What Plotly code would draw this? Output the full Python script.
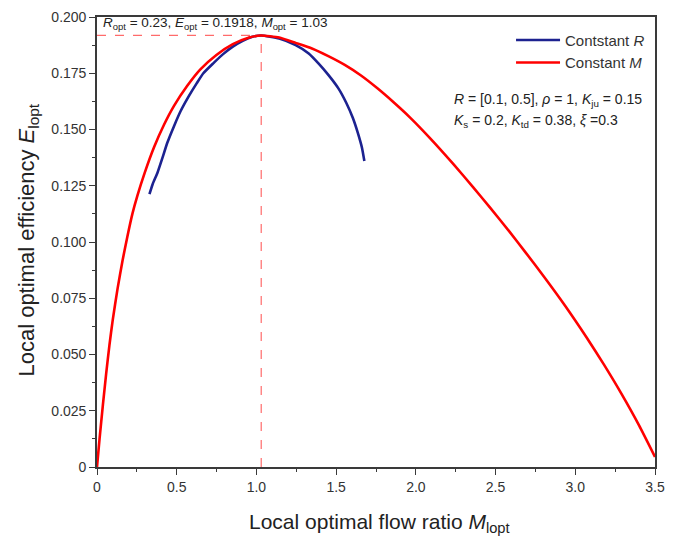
import plotly.graph_objects as go

# Constant M curve (red)
m_const_x = [0, 0.016, 0.037, 0.0575, 0.078, 0.0986, 0.129, 0.160, 0.191, 0.222, 0.253, 0.298,
             0.359, 0.421, 0.483, 0.565, 0.647, 0.749, 0.852, 0.955, 1.03, 1.143, 1.246,
             1.348, 1.451, 1.554, 1.656, 1.759, 1.862, 1.964, 2.087, 2.237, 2.360,
             2.463, 2.586, 2.689, 2.812, 2.935, 3.069, 3.18, 3.29, 3.40, 3.50]
m_const_y = [0, 0.0125, 0.0276, 0.0415, 0.0542, 0.0653, 0.0793, 0.0917, 0.1026, 0.1125,
             0.1205, 0.1305, 0.1423, 0.1522, 0.1605, 0.1693, 0.1766, 0.1831, 0.1879,
             0.1909, 0.1918, 0.1909, 0.1885, 0.1860, 0.1826, 0.1787, 0.1740, 0.1683,
             0.1620, 0.1553, 0.1463, 0.1345, 0.1243, 0.1155, 0.1047, 0.0953, 0.0838,
             0.0718, 0.0578, 0.0455, 0.0325, 0.0185, 0.0045]

# Constant R curve (blue)
r_const_x = [0.329, 0.349, 0.380, 0.411, 0.441, 0.483, 0.524, 0.575, 0.626, 0.667, 0.729,
             0.791, 0.852, 0.914, 0.975, 1.03, 1.143, 1.246, 1.328, 1.389, 1.451, 1.513,
             1.564, 1.605, 1.636, 1.662, 1.677]
r_const_y = [0.1213, 0.1257, 0.1309, 0.1375, 0.1441, 0.1515, 0.1581, 0.1647, 0.1706, 0.1750,
             0.1794, 0.1835, 0.1868, 0.1894, 0.1912, 0.1918, 0.1904, 0.1875, 0.1838, 0.1794,
             0.1743, 0.1684, 0.1618, 0.1551, 0.1485, 0.1419, 0.1360]

M_opt = 1.03
E_opt = 0.1918

x_tickvals = [0, 0.5, 1.0, 1.5, 2.0, 2.5, 3.0, 3.5]
x_ticktext = ["0", "0.5", "1.0", "1.5", "2.0", "2.5", "3.0", "3.5"]
y_tickvals = [0, 0.025, 0.05, 0.075, 0.1, 0.125, 0.15, 0.175, 0.2]
y_ticktext = ["0", "0.025", "0.050", "0.075", "0.100", "0.125", "0.150", "0.175", "0.200"]

FONT = "Liberation Sans, Arial, sans-serif"
AX = "#3a3a3a"

fig = go.Figure()

fig.add_trace(go.Scatter(x=[0, M_opt], y=[E_opt, E_opt], mode="lines",
                         line=dict(color="#ff6b6b", width=1.2, dash="dash"),
                         showlegend=False, hoverinfo="skip"))
fig.add_trace(go.Scatter(x=[M_opt, M_opt], y=[0, E_opt], mode="lines",
                         line=dict(color="#ff6b6b", width=1.2, dash="dash"),
                         showlegend=False, hoverinfo="skip"))

fig.add_trace(go.Scatter(x=r_const_x, y=r_const_y, mode="lines",
                         name="Contstant <i>R</i>",
                         line=dict(color="#1c2290", width=2.6, shape="spline", smoothing=0.5)))
fig.add_trace(go.Scatter(x=m_const_x, y=m_const_y, mode="lines",
                         name="Constant <i>M</i>",
                         line=dict(color="#ff0000", width=2.6, shape="spline", smoothing=0.5)))

fig.update_layout(
    width=673, height=537,
    margin=dict(l=97, r=8, t=17, b=70),
    paper_bgcolor="white", plot_bgcolor="white",
    font=dict(family=FONT, color="#333333", size=14),
    showlegend=True,
    legend=dict(x=0.742, y=0.985, xanchor="left", yanchor="top",
                bgcolor="rgba(0,0,0,0)", font=dict(size=15, color="#333333"),
                tracegroupgap=0, itemwidth=44),
)

fig.update_xaxes(
    range=[0, 3.5], tickvals=x_tickvals, ticktext=x_ticktext,
    showgrid=False, zeroline=False,
    showline=True, linecolor=AX, linewidth=1.6, mirror=True,
    ticks="outside", ticklen=6, tickwidth=1.4, tickcolor=AX,
    minor=dict(dtick=0.25, ticks="outside", ticklen=3.5, tickwidth=1.2, tickcolor=AX),
    tickfont=dict(size=14, color="#333333"),
)
fig.update_yaxes(
    range=[0, 0.2], tickvals=y_tickvals, ticktext=y_ticktext,
    showgrid=False, zeroline=False,
    showline=True, linecolor=AX, linewidth=1.6, mirror=True,
    ticks="outside", ticklen=6, tickwidth=1.4, tickcolor=AX,
    minor=dict(dtick=0.0125, ticks="outside", ticklen=3.5, tickwidth=1.2, tickcolor=AX),
    tickfont=dict(size=14, color="#333333"),
)

# axis titles
fig.add_annotation(
    xref="paper", yref="paper", x=0.507, y=-0.124, xanchor="center", yanchor="middle",
    text="Local optimal flow ratio <i>M</i><sub>lopt</sub>",
    showarrow=False, font=dict(size=21, color="#222222"))
fig.add_annotation(
    xref="paper", yref="paper", x=-0.124, y=0.505, xanchor="center", yanchor="middle",
    text="Local optimal efficiency <i>E</i><sub>lopt</sub>", textangle=-90,
    showarrow=False, font=dict(size=22, color="#222222"))

fig.add_annotation(
    xref="paper", yref="paper", x=0.008, y=1.008, xanchor="left", yanchor="top",
    text="<i>R</i><sub>opt</sub> = 0.23, <i>E</i><sub>opt</sub> = 0.1918, <i>M</i><sub>opt</sub> = 1.03",
    showarrow=False, font=dict(size=13.5, color="#222222"))

fig.add_annotation(
    xref="paper", yref="paper", x=0.636, y=0.816, xanchor="left", yanchor="middle",
    text="<i>R</i> = [0.1, 0.5], <i>ρ</i> = 1, <i>K</i><sub>ju</sub> = 0.15",
    showarrow=False, font=dict(size=14, color="#222222"))
fig.add_annotation(
    xref="paper", yref="paper", x=0.636, y=0.769, xanchor="left", yanchor="middle",
    text="<i>K</i><sub>s</sub> = 0.2, <i>K</i><sub>td</sub> = 0.38, <i>ξ</i> =0.3",
    showarrow=False, font=dict(size=14, color="#222222"))

fig.write_html("out.html")
